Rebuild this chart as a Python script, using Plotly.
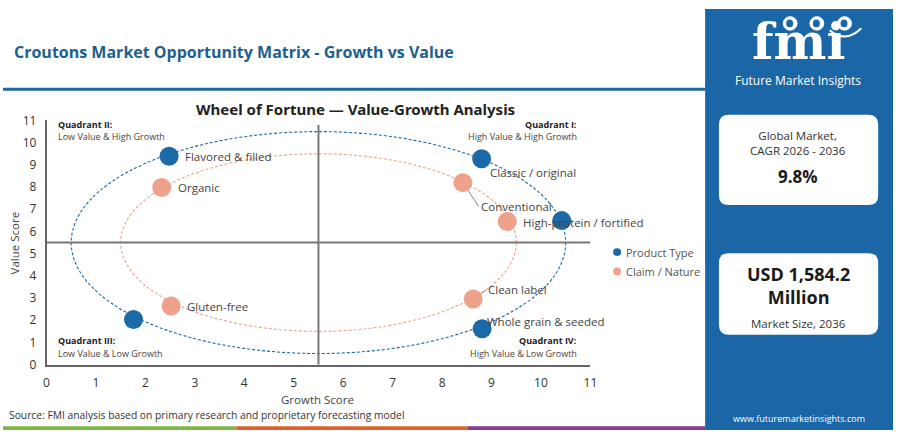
import plotly.graph_objects as go

W, H = 900, 438


def X(p):
    return p / W


def Y(p):
    return 1 - p / H


# ---------------- data ----------------
product_labels = ["Flavored & filled", "Classic / original", "High-protein / fortified",
                  "Whole grain & seeded", ""]
product_growth = [2.48, 8.80, 10.42, 8.81, 1.76]
product_value = [9.39, 9.28, 6.49, 1.62, 2.03]

claim_labels = ["Organic", "Conventional", "", "Clean label", "Gluten-free"]
claim_growth = [2.33, 8.42, 9.32, 8.63, 2.52]
claim_value = [7.98, 8.20, 6.45, 2.96, 2.64]

axis_ticks = list(range(0, 12))
series_names = ["Product Type", "Claim / Nature"]
quadrant_titles = ["Quadrant II:", "Quadrant I:", "Quadrant III:", "Quadrant IV:"]
quadrant_notes = ["Low Value & High Growth", "High Value & High Growth",
                  "Low Value & Low Growth", "High Value & Low Growth"]
ring_center = 5.5
ring_radius = [5.0, 4.0]

cagr_text = "9.8%"
market_size_text = "USD 1,584.2<br>Million"

# ---------------- styles ----------------
FONT = "Open Sans"
BLUE = "#1b6aa7"
ORANGE = "#eea28b"
PANEL = "#1a66a7"
TXT = "#444444"

# label offsets (px, relative to marker centre): dx, dy(down), leader
product_offsets = [(14, 0, False), (6, 14, False), (-41, 2, False), (3, -7, False), (0, 0, False)]
claim_offsets = [(14, 0, False), (14, 24, True), (0, 0, False), (11, -9, True), (14, 0, False)]

fig = go.Figure()

for name, gx, vy, labs, col in [(series_names[0], product_growth, product_value, product_labels, BLUE),
                                (series_names[1], claim_growth, claim_value, claim_labels, ORANGE)]:
    fig.add_trace(go.Scatter(
        x=gx, y=vy, mode="markers", name=name,
        marker=dict(size=19, color=col), showlegend=False,
        hovertext=labs, hoverinfo="text+x+y"))

shapes = []
# rings
for r, col in zip(ring_radius, [BLUE, ORANGE]):
    shapes.append(dict(type="circle", xref="x", yref="y",
                       x0=ring_center - r, x1=ring_center + r,
                       y0=ring_center - r, y1=ring_center + r,
                       line=dict(color=col, width=1.1, dash="3px,2px"), layer="below"))
# quadrant dividers
shapes.append(dict(type="line", xref="x", yref="y", x0=0, x1=11, y0=5.5, y1=5.5,
                   line=dict(color="#777777", width=2), layer="below"))
shapes.append(dict(type="line", xref="x", yref="y", x0=5.5, x1=5.5, y0=0, y1=10.8,
                   line=dict(color="#777777", width=2), layer="below"))

# header line
shapes.append(dict(type="rect", xref="paper", yref="paper", x0=0, x1=X(710), y0=Y(85), y1=Y(82),
                   fillcolor="#1f6aa6", line=dict(width=0), layer="below"))
# right panel
shapes.append(dict(type="rect", xref="paper", yref="paper", x0=X(710), x1=1, y0=0, y1=1,
                   fillcolor=PANEL, line=dict(width=0), layer="below"))
# bottom colour bar
for a, b, c in [(0, 236, "#7fb744"), (236, 470, "#e3602f"), (470, 710, "#8c3b8f")]:
    shapes.append(dict(type="rect", xref="paper", yref="paper", x0=X(a), x1=X(b),
                       y0=0, y1=Y(434), fillcolor=c, line=dict(width=0), layer="below"))


def rounded(x0, y0, x1, y1, r):
    pts = (f"M {X(x0 + r)},{Y(y0)} L {X(x1 - r)},{Y(y0)} Q {X(x1)},{Y(y0)} {X(x1)},{Y(y0 + r)} "
           f"L {X(x1)},{Y(y1 - r)} Q {X(x1)},{Y(y1)} {X(x1 - r)},{Y(y1)} "
           f"L {X(x0 + r)},{Y(y1)} Q {X(x0)},{Y(y1)} {X(x0)},{Y(y1 - r)} "
           f"L {X(x0)},{Y(y0 + r)} Q {X(x0)},{Y(y0)} {X(x0 + r)},{Y(y0)} Z")
    return dict(type="path", xref="paper", yref="paper", path=pts,
                fillcolor="white", line=dict(width=0), layer="below")


shapes.append(rounded(724, 110, 885, 204, 10))
shapes.append(rounded(724, 254, 885, 339, 10))

# logo globes
for cx in [796, 823, 851]:
    shapes.append(dict(type="circle", xref="paper", yref="paper",
                       x0=X(cx - 7), x1=X(cx + 7), y0=Y(22), y1=Y(8),
                       fillcolor="white", line=dict(color="white", width=1), layer="above"))
    shapes.append(dict(type="circle", xref="paper", yref="paper",
                       x0=X(cx - 4), x1=X(cx + 3), y0=Y(19), y1=Y(11),
                       fillcolor=PANEL, line=dict(width=0), layer="above"))
shapes.append(dict(type="path", xref="paper", yref="paper",
                   path=f"M {X(836)},{Y(22)} Q {X(852)},{Y(36)} {X(868)},{Y(20)}",
                   line=dict(color="white", width=2), layer="above"))

# custom legend dots
for i, col in enumerate([BLUE, ORANGE]):
    cy = 253 + 20 * i
    shapes.append(dict(type="circle", xref="paper", yref="paper",
                       x0=X(617), x1=X(625), y0=Y(cy + 4), y1=Y(cy - 4),
                       fillcolor=col, line=dict(width=0), layer="above"))

ann = []
for i, nm in enumerate(series_names):
    ann.append(dict(x=X(628), y=Y(253 + 20 * i), xref="paper", yref="paper", xanchor="left",
                    yanchor="middle", text=nm, showarrow=False,
                    font=dict(family=FONT, size=11, color="#555555")))
# header title
ann.append(dict(x=X(9), y=Y(45), xref="paper", yref="paper", xanchor="left", yanchor="middle",
                text="<b>Croutons Market Opportunity Matrix - Growth vs Value</b>", showarrow=False,
                font=dict(family=FONT, size=16, color="#1c5f90")))
# chart title
ann.append(dict(x=X(356), y=Y(104), xref="paper", yref="paper", xanchor="center", yanchor="middle",
                text="<b>Wheel of Fortune — Value-Growth Analysis</b>", showarrow=False,
                font=dict(family="Noto Sans", size=15, color="#222222")))
# axis titles
ann.append(dict(x=X(318), y=Y(406), xref="paper", yref="paper", xanchor="center", yanchor="middle",
                text="Growth Score", showarrow=False, font=dict(family=FONT, size=11.5, color=TXT)))
ann.append(dict(x=X(12), y=Y(243), xref="paper", yref="paper", xanchor="center", yanchor="middle",
                text="Value Score", showarrow=False, textangle=-90,
                font=dict(family=FONT, size=11.5, color=TXT)))
# source
ann.append(dict(x=X(4), y=Y(422), xref="paper", yref="paper", xanchor="left", yanchor="middle",
                text="Source: FMI analysis based on primary research and proprietary forecasting model",
                showarrow=False, font=dict(family=FONT, size=10.3, color="#333333")))

# quadrant labels
q_pos = [(0.2, 10.82, 10.26, "left"), (10.76, 10.82, 10.26, "right"),
         (0.2, 1.08, 0.48, "left"), (10.76, 1.08, 0.48, "right")]
for t, n, (qx, qy1, qy2, anc) in zip(quadrant_titles, quadrant_notes, q_pos):
    ann.append(dict(x=qx, y=qy1, xref="x", yref="y", xanchor=anc, yanchor="middle",
                    text=f"<b>{t}</b>", showarrow=False,
                    font=dict(family=FONT, size=9, color="#222222")))
    ann.append(dict(x=qx, y=qy2, xref="x", yref="y", xanchor=anc, yanchor="middle",
                    text=n, showarrow=False, font=dict(family=FONT, size=9, color="#444444")))

# point labels
for labels, gx, vy, offs in [(product_labels, product_growth, product_value, product_offsets),
                             (claim_labels, claim_growth, claim_value, claim_offsets)]:
    for lab, px_, py_, (dx, dy, leader) in zip(labels, gx, vy, offs):
        if not lab:
            continue
        if leader:
            ann.append(dict(x=px_, y=py_, xref="x", yref="y", text=lab, showarrow=True,
                            arrowhead=0, arrowwidth=1, arrowcolor="#888888", standoff=9,
                            ax=dx + 2, ay=dy, xanchor="left", yanchor="middle",
                            font=dict(family=FONT, size=11.5, color=TXT)))
        else:
            ann.append(dict(x=px_, y=py_, xref="x", yref="y", text=lab, showarrow=False,
                            xanchor="left", yanchor="middle", xshift=dx, yshift=-dy,
                            font=dict(family=FONT, size=11.5, color=TXT)))

# right panel text
ann.append(dict(x=X(804), y=Y(34), xref="paper", yref="paper", xanchor="center", yanchor="middle",
                text="<b>fmi</b>", showarrow=False,
                font=dict(family="DejaVu Serif", size=50, color="white")))
ann.append(dict(x=X(804), y=Y(74), xref="paper", yref="paper", xanchor="center", yanchor="middle",
                text="Future Market Insights", showarrow=False,
                font=dict(family=FONT, size=12, color="white")))
ann.append(dict(x=X(804), y=Y(139), xref="paper", yref="paper", xanchor="center", yanchor="middle",
                text="Global Market,<br>CAGR 2026 - 2036", showarrow=False,
                font=dict(family=FONT, size=11.5, color="#333333")))
ann.append(dict(x=X(804), y=Y(174), xref="paper", yref="paper", xanchor="center", yanchor="middle",
                text=f"<b>{cagr_text}</b>", showarrow=False,
                font=dict(family=FONT, size=17, color="#1a1a1a")))
ann.append(dict(x=X(804), y=Y(288), xref="paper", yref="paper", xanchor="center", yanchor="middle",
                text=f"<b>{market_size_text}</b>", showarrow=False,
                font=dict(family=FONT, size=18, color="#1a1a1a")))
ann.append(dict(x=X(804), y=Y(327), xref="paper", yref="paper", xanchor="center", yanchor="middle",
                text="Market Size, 2036", showarrow=False,
                font=dict(family=FONT, size=11.5, color="#333333")))
ann.append(dict(x=X(805), y=Y(426), xref="paper", yref="paper", xanchor="center", yanchor="middle",
                text="www.futuremarketinsights.com", showarrow=False,
                font=dict(family=FONT, size=9, color="white")))

fig.update_layout(
    width=W, height=H, margin=dict(l=0, r=0, t=0, b=0),
    paper_bgcolor="white", plot_bgcolor="white",
    font=dict(family=FONT, color=TXT),
    shapes=shapes, annotations=ann, showlegend=False,
    xaxis=dict(domain=[X(44), X(594)], range=[0, 11], tickvals=axis_ticks,
               showgrid=False, zeroline=False, showline=True, linecolor="#666666", linewidth=1.5,
               ticks="", ticklabelstandoff=6, tickfont=dict(size=12, color="#333333")),
    yaxis=dict(domain=[Y(370), Y(116)], range=[0, 11], tickvals=axis_ticks,
               showgrid=False, zeroline=False, showline=True, linecolor="#666666", linewidth=1.5,
               ticks="", ticklabelstandoff=6, tickfont=dict(size=12, color="#333333")),
)

page_css = ("var s=document.createElement('style');"
            "s.innerHTML='html,body{margin:0;padding:0;width:900px;height:438px;overflow:hidden;}"
            "body>div{width:900px;height:438px;overflow:hidden;display:block;}';"
            "document.head.appendChild(s);")

fig.write_html("out.html", config={"displayModeBar": False}, post_script=page_css)
